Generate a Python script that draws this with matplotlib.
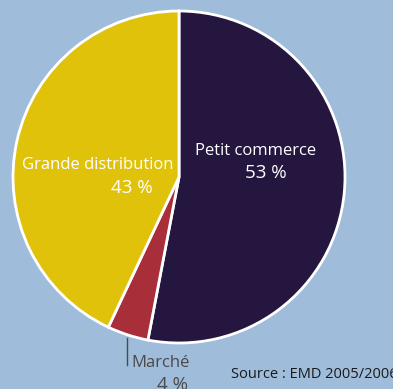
import matplotlib
matplotlib.use("Agg")
import matplotlib.pyplot as plt

categories = ["Petit commerce", "Marché", "Grande distribution"]
shares = [53, 4, 43]
colors = ["#25163f", "#a82e39", "#e0c20b"]
source = "Source : EMD 2005/2006"

W, H = 393, 389
fig = plt.figure(figsize=(W / 100, H / 100), dpi=100)
fig.patch.set_facecolor("#9fbcdb")
ax = fig.add_axes([0, 0, 1, 1])

cx, cy, r = 179, H - 177, 166
ax.pie(shares, colors=colors, startangle=90, counterclock=False,
       center=(cx, cy), radius=r, frame=True,
       wedgeprops=dict(edgecolor="white", linewidth=2.0))
ax.set_xlim(0, W)
ax.set_ylim(0, H)
ax.set_aspect("equal")
ax.axis("off")

font = "Open Sans"
fs_name = 12
fs_num = 13.5
grey = "#4a4a4a"

ax.text(256, H - 155, categories[0], color="white", fontsize=fs_name,
        family=font, ha="center", va="baseline")
ax.text(266, H - 178, f"{shares[0]} %", color="white", fontsize=fs_num,
        family=font, ha="center", va="baseline")
ax.text(174, H - 169, categories[2], color="white", fontsize=fs_name,
        family=font, ha="right", va="baseline")
ax.text(153, H - 193, f"{shares[2]} %", color="white", fontsize=fs_num,
        family=font, ha="right", va="baseline")

ax.plot([127, 127], [H - 338, H - 365], color=grey, lw=1.0)
ax.text(131, H - 367, categories[1], color=grey, fontsize=fs_name,
        family=font, ha="left", va="baseline")
ax.text(188, H - 390, f"{shares[1]} %", color=grey, fontsize=fs_num,
        family=font, ha="right", va="baseline")

ax.text(231, H - 378, source, color="#1a1a1a", fontsize=10.5, family=font,
        ha="left", va="baseline")

fig.savefig("out.png", dpi=100, facecolor=fig.get_facecolor())
